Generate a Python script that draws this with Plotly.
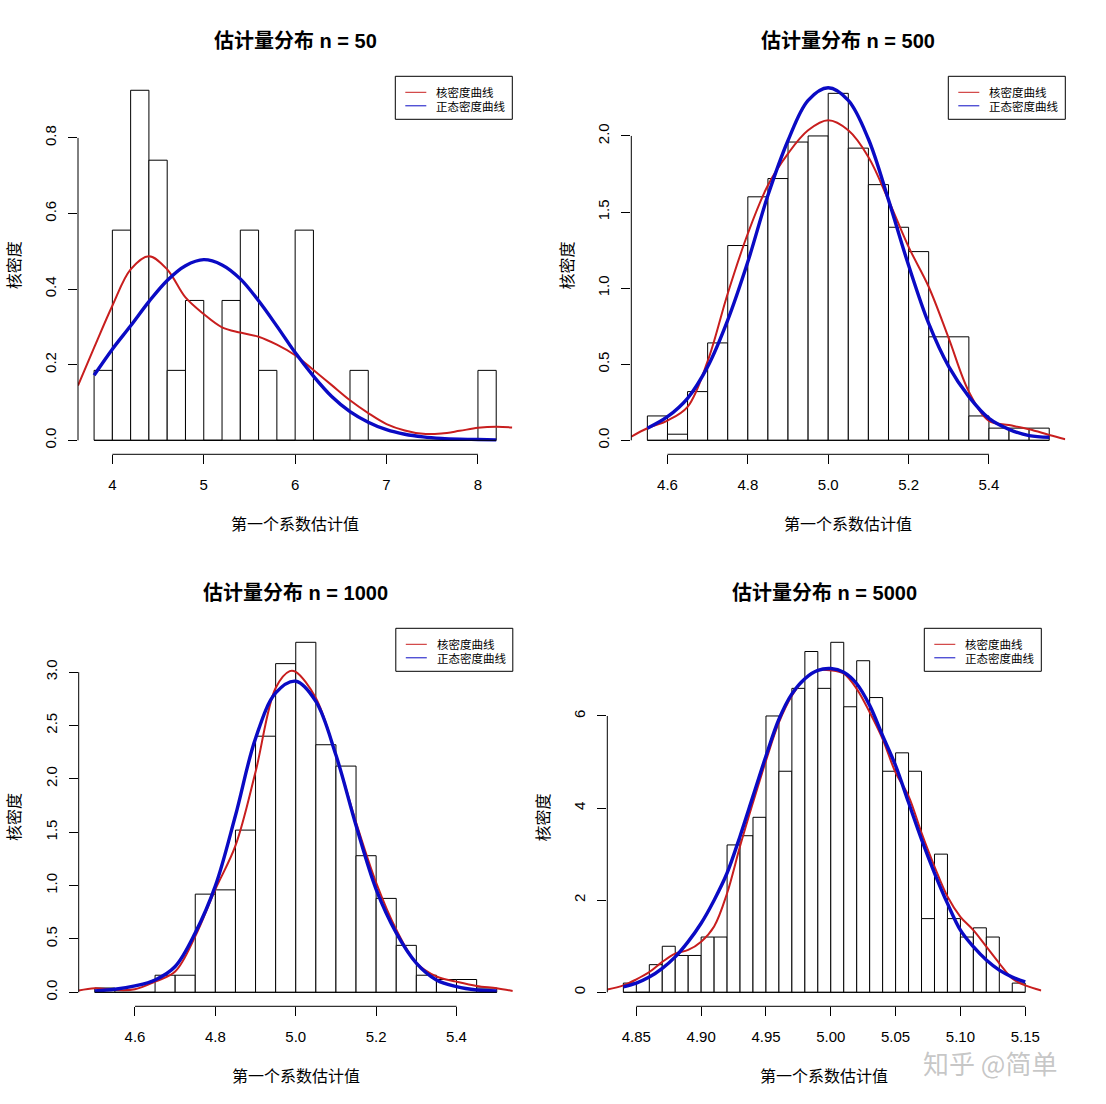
import plotly.graph_objects as go

W, H = 1106, 1104

# ---------------- data ----------------
titles = ["估计量分布 n = 50", "估计量分布 n = 500", "估计量分布 n = 1000", "估计量分布 n = 5000"]
x_label = "第一个系数估计值"
y_label = "核密度"
legend_labels = ["核密度曲线", "正态密度曲线"]

# panel 1 (n = 50)
p1_breaks = [3.8, 4.0, 4.2, 4.4, 4.6, 4.8, 5.0, 5.2, 5.4, 5.6, 5.8, 6.0, 6.2, 6.4, 6.6, 6.8,
             7.0, 7.2, 7.4, 7.6, 7.8, 8.0, 8.2]
p1_density = [0.185, 0.556, 0.926, 0.741, 0.185, 0.370, 0.0, 0.370, 0.556, 0.185, 0.0,
              0.556, 0.0, 0.0, 0.185, 0.0, 0.0, 0.0, 0.0, 0.0, 0.0, 0.185]
p1_kde_x = [3.624, 3.8, 4.0, 4.2, 4.4, 4.6, 4.8, 5.0, 5.2, 5.4, 5.6, 5.8, 6.0, 6.2, 6.4,
            6.6, 6.8, 7.0, 7.2, 7.4, 7.6, 7.8, 8.0, 8.2, 8.376]
p1_kde_y = [0.145, 0.245, 0.356, 0.452, 0.487, 0.452, 0.378, 0.334, 0.299, 0.285, 0.274,
            0.253, 0.225, 0.186, 0.146, 0.106, 0.072, 0.043, 0.026, 0.017, 0.018, 0.025,
            0.033, 0.036, 0.034]
p1_norm_x = [3.8, 4.0, 4.2, 4.4, 4.6, 4.8, 5.0, 5.2, 5.4, 5.6, 5.8, 6.0, 6.2, 6.4, 6.6,
             6.8, 7.0, 7.2, 7.4, 7.6, 7.8, 8.0, 8.2]
p1_norm_y = [0.172, 0.241, 0.303, 0.367, 0.423, 0.462, 0.478, 0.464, 0.427, 0.369, 0.302,
             0.232, 0.170, 0.116, 0.076, 0.048, 0.028, 0.016, 0.009, 0.005, 0.003, 0.002, 0.001]

# panel 2 (n = 500)
p2_breaks = [4.55, 4.60, 4.65, 4.70, 4.75, 4.80, 4.85, 4.90, 4.95, 5.00, 5.05, 5.10, 5.15,
             5.20, 5.25, 5.30, 5.35, 5.40, 5.45, 5.50, 5.55]
p2_density = [0.16, 0.04, 0.32, 0.64, 1.28, 1.60, 1.72, 1.96, 2.00, 2.28, 1.92, 1.68, 1.40,
              1.24, 0.68, 0.68, 0.16, 0.08, 0.08, 0.08]
p2_kde_x = [4.51, 4.55, 4.60, 4.65, 4.70, 4.75, 4.80, 4.85, 4.90, 4.95, 5.00, 5.05, 5.10,
            5.15, 5.20, 5.25, 5.30, 5.35, 5.40, 5.45, 5.50, 5.55, 5.59]
p2_kde_y = [0.024, 0.079, 0.130, 0.220, 0.520, 0.965, 1.359, 1.676, 1.884, 2.037, 2.103,
            2.037, 1.862, 1.578, 1.271, 1.009, 0.670, 0.320, 0.128, 0.100, 0.072, 0.035, 0.007]
p2_norm_x = [4.55, 4.60, 4.65, 4.70, 4.75, 4.80, 4.85, 4.90, 4.95, 5.00, 5.05, 5.10, 5.15,
             5.20, 5.25, 5.30, 5.35, 5.40, 5.45, 5.50, 5.55]
p2_norm_y = [0.079, 0.155, 0.276, 0.484, 0.790, 1.173, 1.610, 1.970, 2.234, 2.317, 2.234,
             1.980, 1.580, 1.150, 0.768, 0.484, 0.287, 0.144, 0.072, 0.031, 0.020]

# panel 3 (n = 1000)
p3_breaks = [4.50, 4.55, 4.60, 4.65, 4.70, 4.75, 4.80, 4.85, 4.90, 4.95, 5.00, 5.05, 5.10,
             5.15, 5.20, 5.25, 5.30, 5.35, 5.40, 5.45, 5.50]
p3_density = [0.04, 0.0, 0.0, 0.16, 0.16, 0.92, 0.96, 1.52, 2.40, 3.08, 3.28, 2.32, 2.12,
              1.28, 0.88, 0.44, 0.16, 0.12, 0.12, 0.04]
p3_kde_x = [4.46, 4.50, 4.55, 4.60, 4.65, 4.70, 4.75, 4.80, 4.85, 4.90, 4.95, 4.985, 5.00,
            5.05, 5.10, 5.15, 5.20, 5.25, 5.30, 5.35, 5.40, 5.45, 5.50, 5.54]
p3_kde_y = [0.016, 0.038, 0.022, 0.028, 0.100, 0.195, 0.525, 0.965, 1.374, 2.066, 2.852,
            3.010, 3.003, 2.758, 2.220, 1.594, 1.028, 0.588, 0.274, 0.148, 0.100, 0.060,
            0.038, 0.013]
p3_norm_x = [4.50, 4.55, 4.60, 4.65, 4.70, 4.75, 4.80, 4.85, 4.90, 4.95, 5.00, 5.05, 5.10,
             5.15, 5.20, 5.25, 5.30, 5.35, 5.40, 5.45, 5.50]
p3_norm_y = [0.013, 0.028, 0.060, 0.116, 0.242, 0.557, 0.997, 1.657, 2.380, 2.805, 2.915,
             2.726, 2.223, 1.563, 0.965, 0.557, 0.274, 0.116, 0.053, 0.022, 0.013]

# panel 4 (n = 5000)
p4_breaks = [4.84, 4.85, 4.86, 4.87, 4.88, 4.89, 4.90, 4.91, 4.92, 4.93, 4.94, 4.95, 4.96,
             4.97, 4.98, 4.99, 5.00, 5.01, 5.02, 5.03, 5.04, 5.05, 5.06, 5.07, 5.08, 5.09,
             5.10, 5.11, 5.12, 5.13, 5.14, 5.15]
p4_density = [0.2, 0.0, 0.6, 1.0, 0.8, 0.8, 1.2, 1.2, 3.2, 3.4, 3.8, 6.0, 4.8, 6.6, 7.4,
              6.6, 7.6, 6.2, 7.2, 6.4, 4.8, 5.2, 4.8, 1.6, 3.0, 1.6, 1.2, 1.4, 1.2, 0.0, 0.2]
p4_kde_x = [4.8276, 4.84, 4.85, 4.86, 4.87, 4.88, 4.89, 4.90, 4.91, 4.92, 4.93, 4.94, 4.95,
            4.96, 4.97, 4.98, 4.99, 5.00, 5.01, 5.02, 5.03, 5.04, 5.05, 5.06, 5.07, 5.08,
            5.09, 5.10, 5.11, 5.12, 5.13, 5.14, 5.15, 5.1624]
p4_kde_y = [0.06, 0.15, 0.28, 0.44, 0.66, 0.84, 0.92, 1.10, 1.43, 2.15, 3.17, 4.12, 5.03,
            5.86, 6.44, 6.81, 6.99, 6.99, 6.92, 6.59, 6.08, 5.50, 4.77, 4.26, 3.46, 2.73,
            2.08, 1.64, 1.35, 0.99, 0.63, 0.30, 0.15, 0.04]
p4_norm_x = [4.84, 4.85, 4.86, 4.87, 4.88, 4.89, 4.90, 4.91, 4.92, 4.93, 4.94, 4.95, 4.96,
             4.97, 4.98, 4.99, 5.00, 5.01, 5.02, 5.03, 5.04, 5.05, 5.06, 5.07, 5.08, 5.09,
             5.10, 5.11, 5.12, 5.13, 5.14, 5.15]
p4_norm_y = [0.116, 0.20, 0.33, 0.52, 0.77, 1.10, 1.50, 2.00, 2.59, 3.39, 4.26, 5.13, 5.93,
             6.48, 6.81, 6.99, 7.03, 6.95, 6.70, 6.23, 5.57, 4.92, 4.12, 3.32, 2.59, 1.93,
             1.35, 0.99, 0.70, 0.48, 0.33, 0.225]

# tick labels
p1_xticks = [4, 5, 6, 7, 8]
p1_xtext = ["4", "5", "6", "7", "8"]
p1_yticks = [0.0, 0.2, 0.4, 0.6, 0.8]
p1_ytext = ["0.0", "0.2", "0.4", "0.6", "0.8"]
p2_xticks = [4.6, 4.8, 5.0, 5.2, 5.4]
p2_xtext = ["4.6", "4.8", "5.0", "5.2", "5.4"]
p2_yticks = [0.0, 0.5, 1.0, 1.5, 2.0]
p2_ytext = ["0.0", "0.5", "1.0", "1.5", "2.0"]
p3_xticks = [4.6, 4.8, 5.0, 5.2, 5.4]
p3_xtext = ["4.6", "4.8", "5.0", "5.2", "5.4"]
p3_yticks = [0.0, 0.5, 1.0, 1.5, 2.0, 2.5, 3.0]
p3_ytext = ["0.0", "0.5", "1.0", "1.5", "2.0", "2.5", "3.0"]
p4_xticks = [4.85, 4.90, 4.95, 5.00, 5.05, 5.10, 5.15]
p4_xtext = ["4.85", "4.90", "4.95", "5.00", "5.05", "5.10", "5.15"]
p4_yticks = [0, 2, 4, 6]
p4_ytext = ["0", "2", "4", "6"]

# ---------------- layout geometry (pixels) ----------------
RED = "#C81E1E"
BLUE = "#0A0AC4"
FONT = "Liberation Sans, Arial, Noto Sans CJK SC, sans-serif"
CJK = "Noto Sans CJK SC, Liberation Sans, sans-serif"

panels = [
    dict(breaks=p1_breaks, dens=p1_density, kx=p1_kde_x, ky=p1_kde_y, nx=p1_norm_x, ny=p1_norm_y,
         xr=[3.624, 8.376], yr=[-0.037037, 0.962963], xt=p1_xticks, xtt=p1_xtext,
         yt=p1_yticks, ytt=p1_ytext, px=(78.0, 512.3), py=(76.3, 454.3)),
    dict(breaks=p2_breaks, dens=p2_density, kx=p2_kde_x, ky=p2_kde_y, nx=p2_norm_x, ny=p2_norm_y,
         xr=[4.51, 5.59], yr=[-0.092, 2.392], xt=p2_xticks, xtt=p2_xtext,
         yt=p2_yticks, ytt=p2_ytext, px=(631.3, 1065.3), py=(76.3, 454.3)),
    dict(breaks=p3_breaks, dens=p3_density, kx=p3_kde_x, ky=p3_kde_y, nx=p3_norm_x, ny=p3_norm_y,
         xr=[4.46, 5.54], yr=[-0.1312, 3.4112], xt=p3_xticks, xtt=p3_xtext,
         yt=p3_yticks, ytt=p3_ytext, px=(78.7, 512.8), py=(628.3, 1006.3)),
    dict(breaks=p4_breaks, dens=p4_density, kx=p4_kde_x, ky=p4_kde_y, nx=p4_norm_x, ny=p4_norm_y,
         xr=[4.8276, 5.1624], yr=[-0.304, 7.904], xt=p4_xticks, xtt=p4_xtext,
         yt=p4_yticks, ytt=p4_ytext, px=(607.3, 1041.3), py=(628.3, 1006.3)),
]

fig = go.Figure()
shapes = []
annotations = []
layout_axes = {}

for i, p in enumerate(panels):
    n = i + 1
    sfx = "" if n == 1 else str(n)
    xref, yref = "x" + sfx, "y" + sfx
    b = p["breaks"]
    centers = [(b[k] + b[k + 1]) / 2 for k in range(len(b) - 1)]
    widths = [b[k + 1] - b[k] for k in range(len(b) - 1)]

    fig.add_trace(go.Bar(x=centers, y=p["dens"], width=widths, xaxis=xref, yaxis=yref,
                         marker=dict(color="white", line=dict(color="black", width=1)),
                         showlegend=False, hoverinfo="skip"))
    fig.add_trace(go.Scatter(x=p["kx"], y=p["ky"], mode="lines", xaxis=xref, yaxis=yref,
                             line=dict(color=RED, width=2, shape="spline"),
                             name=legend_labels[0], showlegend=False))
    fig.add_trace(go.Scatter(x=p["nx"], y=p["ny"], mode="lines", xaxis=xref, yaxis=yref,
                             line=dict(color=BLUE, width=3.4, shape="spline"),
                             name=legend_labels[1], showlegend=False))

    x0p, x1p = p["px"]
    y0p, y1p = p["py"]
    pw, ph = x1p - x0p, y1p - y0p
    xdom = [x0p / W, x1p / W]
    ydom = [1 - y1p / H, 1 - y0p / H]

    layout_axes["xaxis" + sfx] = dict(
        domain=xdom, range=p["xr"], anchor=yref, showgrid=False, zeroline=False,
        showline=False, ticks="outside", ticklen=9, tickwidth=1, tickcolor="black",
        tickmode="array", tickvals=p["xt"], ticktext=p["xtt"],
        tickfont=dict(family=FONT, size=15, color="black"), ticklabelstandoff=8)
    layout_axes["yaxis" + sfx] = dict(
        domain=ydom, range=p["yr"], anchor=xref, showgrid=False, zeroline=False,
        showline=False, ticks="outside", ticklen=9, tickwidth=1, tickcolor="black",
        tickmode="array", tickvals=p["yt"], ticktext=p["ytt"], tickangle=-90,
        tickfont=dict(family=FONT, size=15, color="black"), ticklabelstandoff=6)

    # R-style axis lines spanning first to last tick
    shapes.append(dict(type="line", xref=xref, yref=yref + " domain",
                       x0=p["xt"][0], x1=p["xt"][-1], y0=0, y1=0,
                       line=dict(color="black", width=1)))
    shapes.append(dict(type="line", xref=xref + " domain", yref=yref,
                       x0=0, x1=0, y0=p["yt"][0], y1=p["yt"][-1],
                       line=dict(color="black", width=1)))
    # histogram baseline
    shapes.append(dict(type="line", xref=xref, yref=yref, x0=b[0], x1=b[-1], y0=0, y1=0,
                       line=dict(color="black", width=1)))

    # legend box (top-right of plot region)
    lw, lh = 117, 43
    shapes.append(dict(type="rect", xref=xref + " domain", yref=yref + " domain",
                       x0=1 - lw / pw, x1=1, y0=1 - lh / ph, y1=1,
                       line=dict(color="black", width=1), fillcolor="white"))
    for j, (col, lab) in enumerate(zip([RED, BLUE], legend_labels)):
        yy = 1 - (16 + 13.5 * j) / ph
        shapes.append(dict(type="line", xref=xref + " domain", yref=yref + " domain",
                           x0=1 - (lw - 10) / pw, x1=1 - (lw - 31) / pw, y0=yy, y1=yy,
                           line=dict(color=col, width=1)))
        annotations.append(dict(xref=xref + " domain", yref=yref + " domain",
                                x=1 - (lw - 39) / pw, y=yy, text=lab, showarrow=False,
                                xanchor="left", yanchor="middle",
                                font=dict(family=CJK, size=11.5, color="black")))

    # title
    annotations.append(dict(xref=xref + " domain", yref=yref + " domain", x=0.5,
                            y=1 + 35 / ph, text="<b>" + titles[i] + "</b>", showarrow=False,
                            xanchor="center", yanchor="middle",
                            font=dict(family=FONT, size=20, color="black")))
    # axis titles
    annotations.append(dict(xref=xref + " domain", yref=yref + " domain", x=0.5,
                            y=-69 / ph, text=x_label, showarrow=False,
                            xanchor="center", yanchor="middle",
                            font=dict(family=CJK, size=16, color="black")))
    annotations.append(dict(xref=xref + " domain", yref=yref + " domain", x=-65 / pw,
                            y=0.5, text=y_label, showarrow=False, textangle=-90,
                            xanchor="center", yanchor="middle",
                            font=dict(family=CJK, size=16, color="black")))

# watermark
annotations.append(dict(xref="paper", yref="paper", x=990 / W, y=1 - 1062 / H,
                        text="知乎 @简单", showarrow=False, xanchor="center", yanchor="middle",
                        font=dict(family=CJK, size=26, color="rgba(150,150,150,0.55)")))

fig.update_layout(
    width=W, height=H, margin=dict(l=0, r=0, t=0, b=0),
    paper_bgcolor="white", plot_bgcolor="white", showlegend=False,
    shapes=shapes, annotations=annotations, barmode="overlay", **layout_axes)

fig.write_html("out.html")
